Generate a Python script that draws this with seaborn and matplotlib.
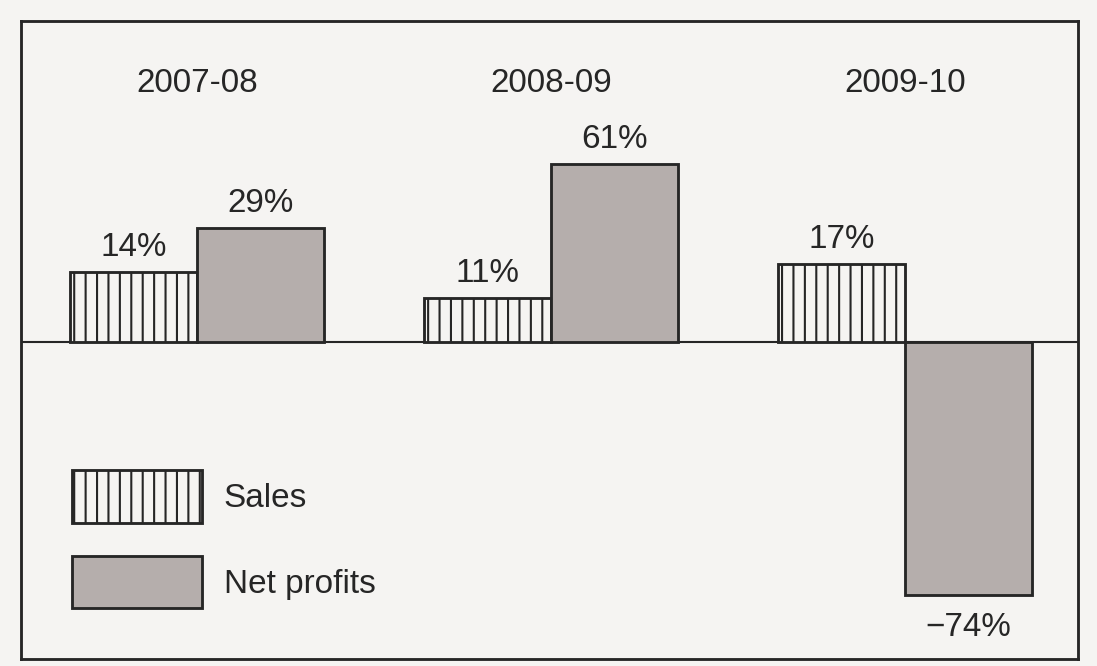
import matplotlib
matplotlib.use("Agg")
import matplotlib.pyplot as plt
from matplotlib.patches import Patch
import seaborn as sns
import pandas as pd

# ---- data ----
periods = ["2007-08", "2008-09", "2009-10"]
series_names = ["Sales", "Net profits"]
sales_pct = [14, 11, 17]            # printed labels
profit_pct = [29, 61, -74]          # printed labels
# drawn bar heights (the printed chart is not to scale), in picture units
sales_bar_height = [70, 44, 78]
profit_bar_height = [114, 178, -253]

PAGE = "#f5f4f2"
INK = "#262626"
GREY = "#b5aeac"

sns.set_theme(style="white")
plt.rcParams["font.family"] = ["Liberation Sans", "DejaVu Sans"]
plt.rcParams["hatch.linewidth"] = 1.1
plt.rcParams["hatch.color"] = INK

DPI = 137
fig = plt.figure(figsize=(1097 / DPI, 666 / DPI), dpi=DPI, facecolor=PAGE)
ax = fig.add_axes([21 / 1097, 7 / 666, (1078 - 21) / 1097, (659 - 21) / 666])
ax.set_facecolor(PAGE)

df = pd.DataFrame({
    "period": periods * 2,
    "series": [series_names[0]] * 3 + [series_names[1]] * 3,
    "height": sales_bar_height + profit_bar_height,
})

sns.barplot(data=df, x="period", y="height", hue="series",
            hue_order=series_names, order=periods,
            palette={"Sales": PAGE, "Net profits": GREY},
            width=0.7175, gap=0, edgecolor=INK, linewidth=1.5,
            saturation=1, legend=False, ax=ax)

for bar in ax.containers[0]:
    bar.set_hatch("||")

ax.axhline(0, color=INK, lw=1.1, zorder=0.5)

ax.set_xlim(-0.497, 2.489)
ax.set_ylim(-317, 321)
ax.set_xticks([])
ax.set_yticks([])
ax.set_xlabel("")
ax.set_ylabel("")
for sp in ax.spines.values():
    sp.set_visible(True)
    sp.set_color(INK)
    sp.set_linewidth(1.5)

fs = 17.5
# period titles
for i, p in enumerate(periods):
    ax.text(i, 259, p, ha="center", va="center", fontsize=fs, color=INK)

# value labels
for cont, pcts in zip(ax.containers, [sales_pct, profit_pct]):
    for bar, pct in zip(cont, pcts):
        xc = bar.get_x() + bar.get_width() / 2
        h = bar.get_height()
        txt = f"{pct}%" if pct >= 0 else f"\u2212{abs(pct)}%"
        if h >= 0:
            ax.text(xc, h + 24, txt, ha="center", va="center", fontsize=fs, color=INK)
        else:
            ax.text(xc, h - 32, txt, ha="center", va="center", fontsize=fs, color=INK)

handles = [
    Patch(facecolor=PAGE, edgecolor=INK, hatch="||", linewidth=1.5, label="Sales"),
    Patch(facecolor=GREY, edgecolor=INK, linewidth=1.5, label="Net profits"),
]
fig.legend(handles=handles, loc="upper left",
           bbox_to_anchor=(72 / 1097, 1 - 470 / 666), bbox_transform=fig.transFigure,
           frameon=False, fontsize=fs, handlelength=3.9, handleheight=2.05,
           labelspacing=1.0, handletextpad=0.65, borderpad=0, borderaxespad=0,
           labelcolor=INK)

fig.savefig("out.png", dpi=DPI, facecolor=PAGE)
